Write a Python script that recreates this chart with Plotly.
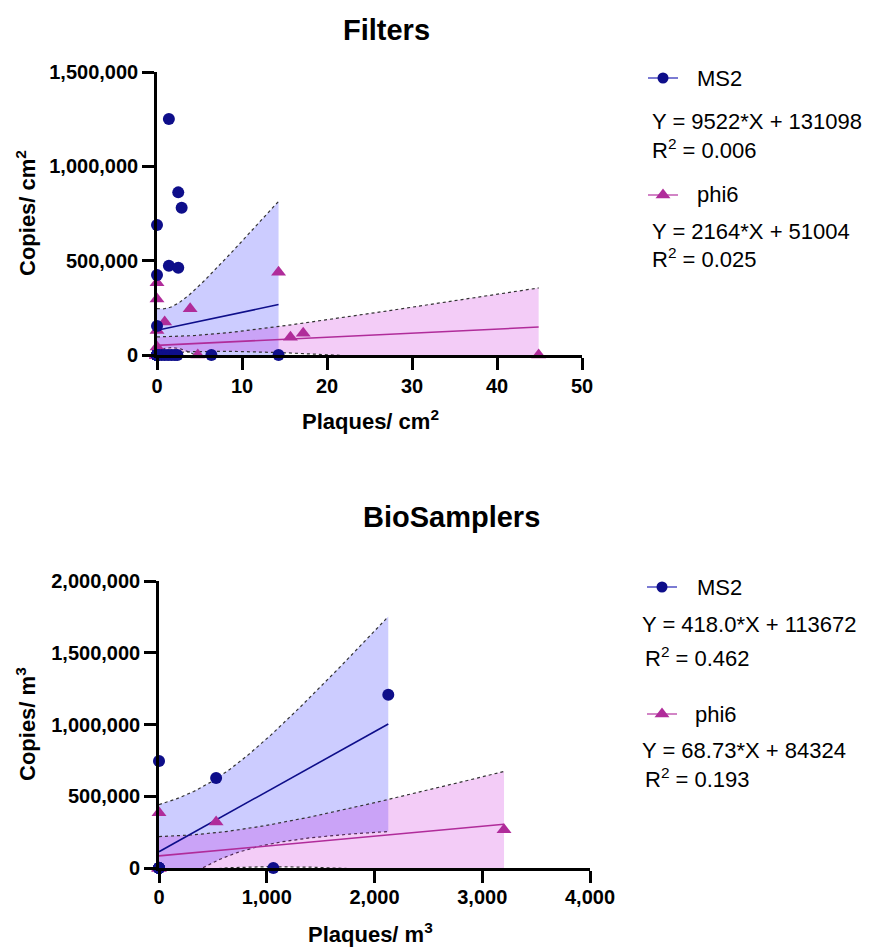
import math
import numpy as np
import plotly.graph_objects as go

W, H = 879, 949

# ---------------- data ----------------
# Filters: plaques / cm2 vs genome copies / cm2
filt_ms2_x = [0, 0, 0, 1.4, 2.5, 2.9, 1.4, 2.5, 6.4, 14.3, 0.5, 0.9, 1.3, 1.7, 2.1, 2.4,
              0, 0, 0, 0, 0, 0, 0, 0, 0, 0, 0, 0, 0, 0, 0, 0, 0, 0, 0, 0]
filt_ms2_y = [689000, 424000, 154000, 1251000, 862000, 781000, 473000, 463000, 0, 0, 0, 0, 0, 0, 0, 0,
              0, 0, 0, 0, 0, 0, 0, 0, 0, 0, 0, 0, 0, 0, 0, 0, 0, 0, 0, 0]
filt_phi6_x = [0, 0, 0.9, 3.9, 14.3, 0, 15.7, 17.2, 0, 4.8, 44.9,
               0, 0, 0, 0, 0, 0, 0, 0, 0, 0, 0, 0, 0, 0, 0, 0, 0, 0, 0, 0, 0, 0]
filt_phi6_y = [383000, 297000, 175000, 245000, 438000, 42000, 94000, 115000, 130000, 0, 0,
               0, 0, 0, 0, 0, 0, 0, 0, 0, 0, 0, 0, 0, 0, 0, 0, 0, 0, 0, 0, 0, 0]

# BioSamplers: plaques / m3 vs genome copies / m3
bio_ms2_x = [0, 0, 0, 0, 0, 0, 530, 1061, 2128]
bio_ms2_y = [745000, 0, 0, 0, 0, 0, 627000, 0, 1207000]
bio_phi6_x = [0, 0, 0, 0, 0, 0, 0, 530, 3202]
bio_phi6_y = [385000, 0, 0, 0, 0, 0, 0, 320000, 267000]

# linear fits: (slope text, intercept, R2 text)
filt_ms2_fit = ("9522", 131098, "0.006")
filt_phi6_fit = ("2164", 51004, "0.025")
bio_ms2_fit = ("418.0", 113672, "0.462")
bio_phi6_fit = ("68.73", 84324, "0.193")

filt_x_ticks = [0, 10, 20, 30, 40, 50]
filt_y_ticks = [0, 500000, 1000000, 1500000]
bio_x_ticks = [0, 1000, 2000, 3000, 4000]
bio_y_ticks = [0, 500000, 1000000, 1500000, 2000000]

# ---------------- styling ----------------
NAVY = "#0e0e8a"
NAVY_LIGHT = "#5a5ac8"
MAGENTA = "#b02c9a"
MAGENTA_LIGHT = "#c766b8"
BLUE_FILL = "rgba(0,0,255,0.2)"
PINK_FILL = "rgba(195,0,215,0.2)"
FONT = "Liberation Sans, Arial, sans-serif"


def t_quantile(p, df):
    """Student t quantile by bisection on a numerically integrated CDF."""
    def pdf(t):
        return math.exp(math.lgamma((df + 1) / 2) - math.lgamma(df / 2)) / math.sqrt(df * math.pi) * \
            (1 + t * t / df) ** (-(df + 1) / 2)

    def cdf(t):
        xs = np.linspace(0, t, 4001)
        ys = np.array([pdf(v) for v in xs])
        return 0.5 + np.trapezoid(ys, xs)

    lo, hi = 0.0, 20.0
    for _ in range(60):
        mid = (lo + hi) / 2
        if cdf(mid) < p:
            lo = mid
        else:
            hi = mid
    return (lo + hi) / 2


def conf_band(xs, ys, slope, intercept, npts=120):
    """95% confidence band of the fitted line."""
    x = np.asarray(xs, float)
    y = np.asarray(ys, float)
    n = len(x)
    resid = y - (slope * x + intercept)
    s = math.sqrt(np.sum(resid ** 2) / (n - 2))
    xbar = x.mean()
    sxx = np.sum((x - xbar) ** 2)
    t = t_quantile(0.975, n - 2)
    grid = np.linspace(x.min(), x.max(), npts)
    fit = slope * grid + intercept
    hw = t * s * np.sqrt(1 / n + (grid - xbar) ** 2 / sxx)
    return grid, fit - hw, fit + hw


fig = go.Figure()


def add_band(xs, ys, fit, fill, xa, ya):
    g, lo, hi = conf_band(xs, ys, float(fit[0]), fit[1])
    fig.add_trace(go.Scatter(x=g, y=lo, mode="lines", line=dict(color="#333333", width=1.2, dash="dot"),
                             xaxis=xa, yaxis=ya, hoverinfo="skip", showlegend=False))
    fig.add_trace(go.Scatter(x=g, y=hi, mode="lines", line=dict(color="#333333", width=1.2, dash="dot"),
                             fill="tonexty", fillcolor=fill,
                             xaxis=xa, yaxis=ya, hoverinfo="skip", showlegend=False))


def add_fit(xs, fit, color, xa, ya):
    slope = float(fit[0])
    ends = np.array([min(xs), max(xs)], float)
    fig.add_trace(go.Scatter(x=ends, y=slope * ends + fit[1], mode="lines",
                             line=dict(color=color, width=1.6), xaxis=xa, yaxis=ya, showlegend=False))


def add_points(xs, ys, color, symbol, xa, ya, size):
    fig.add_trace(go.Scatter(x=xs, y=ys, mode="markers", cliponaxis=False,
                             marker=dict(symbol=symbol, color=color, size=size, line=dict(width=0)),
                             xaxis=xa, yaxis=ya, showlegend=False))


# Filters panel
add_band(filt_ms2_x, filt_ms2_y, filt_ms2_fit, BLUE_FILL, "x", "y")
add_band(filt_phi6_x, filt_phi6_y, filt_phi6_fit, PINK_FILL, "x", "y")
add_fit(filt_ms2_x, filt_ms2_fit, NAVY, "x", "y")
add_fit(filt_phi6_x, filt_phi6_fit, MAGENTA, "x", "y")
add_points(filt_phi6_x, filt_phi6_y, MAGENTA, "triangle-up", "x", "y", 13)
add_points(filt_ms2_x, filt_ms2_y, NAVY, "circle", "x", "y", 12)

# BioSamplers panel
add_band(bio_ms2_x, bio_ms2_y, bio_ms2_fit, BLUE_FILL, "x2", "y2")
add_band(bio_phi6_x, bio_phi6_y, bio_phi6_fit, PINK_FILL, "x2", "y2")
add_fit(bio_ms2_x, bio_ms2_fit, NAVY, "x2", "y2")
add_fit(bio_phi6_x, bio_phi6_fit, MAGENTA, "x2", "y2")
add_points(bio_phi6_x, bio_phi6_y, MAGENTA, "triangle-up", "x2", "y2", 13)
add_points(bio_ms2_x, bio_ms2_y, NAVY, "circle", "x2", "y2", 12)


def px(xp):
    return xp / W


def py(yp):
    return 1 - yp / H


tick_font = dict(family=FONT, size=20, color="black", weight="bold")
axis_common = dict(showline=True, linecolor="black", linewidth=2.6, ticks="outside", ticklen=12,
                   tickwidth=2.6, tickcolor="black", showgrid=False, zeroline=False,
                   tickfont=tick_font, fixedrange=True, automargin=False)

fig.update_layout(
    width=W, height=H, autosize=False,
    margin=dict(l=0, r=0, t=0, b=0, pad=0),
    paper_bgcolor="white", plot_bgcolor="white",
    showlegend=False,
    xaxis=dict(domain=[px(157), px(582)], range=[0, 50], tickvals=filt_x_ticks, anchor="y",
               ticklabelstandoff=-1, **axis_common),
    yaxis=dict(domain=[py(355), py(72)], range=[0, 1500000], tickvals=filt_y_ticks, tickformat=",",
               anchor="x", **axis_common),
    xaxis2=dict(domain=[px(159), px(590)], range=[0, 4000], tickvals=bio_x_ticks, tickformat=",",
                anchor="y2", ticklabelstandoff=-3, **axis_common),
    yaxis2=dict(domain=[py(868), py(581)], range=[0, 2000000], tickvals=bio_y_ticks, tickformat=",",
                anchor="x2", **axis_common),
)

ann = []


def text(x, y, s, size=22, bold=False, xanchor="left", angle=0):
    ann.append(dict(x=px(x), y=py(y), xref="paper", yref="paper", text=s, showarrow=False,
                    xanchor=xanchor, yanchor="middle", textangle=angle,
                    font=dict(family=FONT, size=size, color="black", weight="bold" if bold else "normal")))


# titles and axis titles
text(386, 30, "Filters", size=29, bold=True, xanchor="center")
text(451, 517, "BioSamplers", size=29, bold=True, xanchor="center")
text(26, 213, "Copies/ cm<sup>2</sup>", size=22, bold=True, xanchor="center", angle=-90)
text(26, 724, "Copies/ m<sup>3</sup>", size=22, bold=True, xanchor="center", angle=-90)
text(370, 420, "Plaques/ cm<sup>2</sup>", size=22, bold=True, xanchor="center")
text(370, 933, "Plaques/ m<sup>3</sup>", size=22, bold=True, xanchor="center")

shapes = []


def legend_glyph(cx, cy, color, line_color, kind):
    shapes.append(dict(type="line", xref="paper", yref="paper", x0=px(cx - 15), x1=px(cx + 15),
                       y0=py(cy), y1=py(cy), line=dict(color=line_color, width=1.6)))
    if kind == "circle":
        r = 5.5
        shapes.append(dict(type="circle", xref="paper", yref="paper", x0=px(cx - r), x1=px(cx + r),
                           y0=py(cy + r), y1=py(cy - r), fillcolor=color, line=dict(width=0)))
    else:
        r = 6.5
        path = "M {:.5f},{:.5f} L {:.5f},{:.5f} L {:.5f},{:.5f} Z".format(
            px(cx - r * 1.15), py(cy + r / 2), px(cx + r * 1.15), py(cy + r / 2), px(cx), py(cy - r))
        shapes.append(dict(type="path", xref="paper", yref="paper", path=path, fillcolor=color,
                           line=dict(width=0)))


def eq(fit):
    return "Y = {}*X + {}".format(fit[0], fit[1])


LEG = 22
# Filters legend
legend_glyph(663, 78, NAVY, NAVY_LIGHT, "circle")
text(695, 78, "MS2", size=LEG)
text(650, 121, eq(filt_ms2_fit), size=LEG)
text(650, 149, "R<sup>2</sup> = " + filt_ms2_fit[2], size=LEG)
legend_glyph(663, 195, MAGENTA, MAGENTA_LIGHT, "triangle")
text(695, 195, "phi6", size=LEG)
text(650, 231, eq(filt_phi6_fit), size=LEG)
text(650, 258, "R<sup>2</sup> = " + filt_phi6_fit[2], size=LEG)

# BioSamplers legend
legend_glyph(662, 587, NAVY, NAVY_LIGHT, "circle")
text(695, 587, "MS2", size=LEG)
text(640, 624, eq(bio_ms2_fit), size=LEG)
text(643, 657, "R<sup>2</sup> = " + bio_ms2_fit[2], size=LEG)
legend_glyph(662, 714, MAGENTA, MAGENTA_LIGHT, "triangle")
text(693, 714, "phi6", size=LEG)
text(640, 750, eq(bio_phi6_fit), size=LEG)
text(643, 778, "R<sup>2</sup> = " + bio_phi6_fit[2], size=LEG)

fig.update_layout(annotations=ann, shapes=shapes)
fig.write_html("out.html")
